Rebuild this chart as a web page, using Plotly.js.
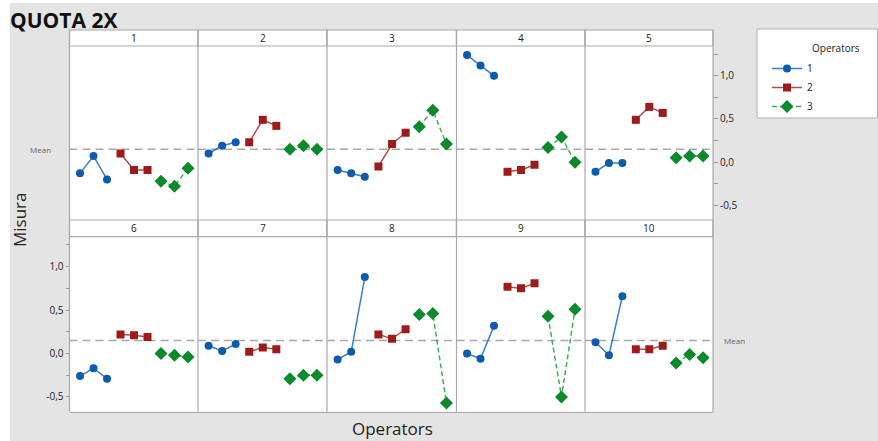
<!DOCTYPE html>
<html>
<head>
<meta charset="utf-8">
<script src="https://cdn.plot.ly/plotly-3.0.1.min.js"></script>
<style>html,body{margin:0;padding:0;background:#fff;}#chart{width:878px;height:441px;}</style>
</head>
<body>
<div id="chart"></div>
<script>
// ---- data ----
const parts = ['1','2','3','4','5','6','7','8','9','10'];
const operators = ['1','2','3'];
const trials = [1,2,3];
// three trials per part, parts 1..10 in order
const op1Values = [
  -0.13, 0.07, -0.20,
   0.10, 0.19, 0.23,
  -0.09, -0.13, -0.17,
   1.24, 1.12, 1.00,
  -0.11, -0.01, -0.01,
  -0.26, -0.17, -0.29,
   0.09, 0.03, 0.11,
  -0.07, 0.02, 0.88,
   0.00, -0.06, 0.32,
   0.13, -0.02, 0.66
];
const op2Values = [
   0.10, -0.09, -0.09,
   0.23, 0.49, 0.42,
  -0.05, 0.21, 0.34,
  -0.11, -0.09, -0.03,
   0.49, 0.64, 0.57,
   0.22, 0.21, 0.19,
   0.02, 0.07, 0.05,
   0.22, 0.17, 0.28,
   0.77, 0.75, 0.81,
   0.05, 0.05, 0.09
];
const op3Values = [
  -0.22, -0.28, -0.07,
   0.15, 0.19, 0.15,
   0.41, 0.60, 0.21,
   0.17, 0.29, 0.00,
   0.05, 0.07, 0.07,
   0.00, -0.02, -0.04,
  -0.29, -0.25, -0.25,
   0.45, 0.46, -0.57,
   0.43, -0.50, 0.51,
  -0.11, -0.01, -0.05
];
const meanValue = 0.15;
const tickVals = [-0.5, -0.25, 0, 0.25, 0.5, 0.75, 1.0, 1.25];
const tickText = ['-0,5', '', '0,0', '', '0,5', '', '1,0', ''];

// ---- layout helpers ----
const W = 878, H = 441;
const px = v => v / W;
const py = v => 1 - v / H;
const colEdges = [69.5, 198, 327, 456.5, 585, 713];
const rows = [
  {hTop: 30, pTop: 46, pBot: 220},
  {hTop: 220, pTop: 236.7, pBot: 411.7}
];
const yRange = [-0.67, 1.345];
const xRange = [0.22, 9.74];
const BORDER = '#a9a9a9';

const opData = [op1Values, op2Values, op3Values];
const styles = [
  {marker: {color: '#0d5bab', size: 8, symbol: 'circle'}, line: {color: '#3d7cc9', width: 1.5, dash: 'solid'}},
  {marker: {color: '#9c1c1c', size: 8, symbol: 'square'}, line: {color: '#bd4a4a', width: 1.5, dash: 'solid'}},
  {marker: {color: '#0b8a2c', size: 10, symbol: 'diamond'}, line: {color: '#3fae55', width: 1.5, dash: '5px,3px'}}
];

const traces = [];
const layout = {
  width: W, height: H,
  margin: {l: 0, r: 0, t: 0, b: 0},
  paper_bgcolor: '#e4e4e4',
  plot_bgcolor: '#ffffff',
  separators: ',.',
  font: {family: 'Open Sans, Noto Sans, sans-serif', color: '#222'},
  showlegend: true,
  legend: {
    x: px(767), y: py(54), xanchor: 'left', yanchor: 'top',
    bgcolor: 'rgba(0,0,0,0)', borderwidth: 0,
    font: {size: 10, color: '#222'}, traceorder: 'normal'
  },
  shapes: [],
  annotations: []
};

// thin white frame strips at left and top (outside the panels)
layout.shapes.push({type: 'rect', xref: 'paper', yref: 'paper', layer: 'below',
  x0: 0, x1: px(10), y0: 0, y1: 1, fillcolor: '#ffffff', line: {width: 0}});
layout.shapes.push({type: 'rect', xref: 'paper', yref: 'paper', layer: 'below',
  x0: 0, x1: 1, y0: py(3), y1: 1, fillcolor: '#ffffff', line: {width: 0}});

parts.forEach((part, p) => {
  const row = p < 5 ? 0 : 1;
  const col = p % 5;
  const xName = 'xaxis' + (p === 0 ? '' : p + 1);
  const xRef = 'x' + (p === 0 ? '' : p + 1);
  const yRef = row === 0 ? 'y' : 'y2';
  layout[xName] = {
    domain: [px(colEdges[col]), px(colEdges[col + 1])],
    range: xRange, anchor: yRef,
    showgrid: false, zeroline: false, showticklabels: false, ticks: '',
    showline: true, mirror: true, linecolor: BORDER, linewidth: 1.2
  };
  operators.forEach((op, o) => {
    const vals = opData[o].slice(p * 3, p * 3 + 3);
    traces.push({
      type: 'scatter', mode: 'lines+markers',
      x: trials.map(t => t + o * trials.length),
      y: vals,
      xaxis: xRef, yaxis: yRef,
      name: op, legendgroup: op, showlegend: p === 0,
      marker: Object.assign({line: {width: 0}}, styles[o].marker),
      line: styles[o].line,
      hoverinfo: 'y'
    });
  });
  // mean line (under the traces)
  layout.shapes.push({type: 'line', xref: xRef + ' domain', yref: yRef, layer: 'below',
    x0: 0, x1: 1, y0: meanValue, y1: meanValue,
    line: {color: '#a8a8a8', width: 1.5, dash: '8px,5px'}});
  const r = rows[row];
  // header strip
  layout.shapes.push({type: 'rect', xref: 'paper', yref: 'paper', layer: 'above',
    x0: px(colEdges[col]), x1: px(colEdges[col + 1]), y0: py(r.pTop), y1: py(r.hTop),
    fillcolor: '#ffffff', line: {color: BORDER, width: 1.2}});
  layout.annotations.push({xref: 'paper', yref: 'paper',
    x: px((colEdges[col] + colEdges[col + 1]) / 2), y: py((r.hTop + r.pTop) / 2),
    text: part, showarrow: false, font: {size: 10, color: '#222'}, xanchor: 'center', yanchor: 'middle'});
});

// vertical panel separators (lines only)
rows.forEach(r => {
  colEdges.forEach(cx => {
    layout.shapes.push({type: 'line', xref: 'paper', yref: 'paper', layer: 'above',
      x0: px(cx), x1: px(cx), y0: py(r.pBot), y1: py(r.hTop),
      line: {color: BORDER, width: 1.2}});
  });
});

const yCommon = {
  range: yRange, showgrid: false, zeroline: false, showline: false,
  tickvals: tickVals, ticktext: tickText, ticks: 'outside', ticklen: 4, tickcolor: '#999',
  tickfont: {size: 10, color: '#222'}, anchor: 'free'
};
layout.yaxis = Object.assign({}, yCommon, {domain: [py(rows[0].pBot), py(rows[0].pTop)], side: 'right', position: px(colEdges[5])});
layout.yaxis2 = Object.assign({}, yCommon, {domain: [py(rows[1].pBot), py(rows[1].pTop)], side: 'left', position: px(colEdges[0])});

// mean labels
layout.annotations.push({xref: 'paper', yref: 'y', x: px(28), y: meanValue, text: 'Mean', showarrow: false,
  xanchor: 'left', yanchor: 'middle', font: {size: 8, color: '#666'}});
layout.annotations.push({xref: 'paper', yref: 'y2', x: px(722), y: meanValue, text: 'Mean', showarrow: false,
  xanchor: 'left', yanchor: 'middle', font: {size: 8, color: '#666'}});

// titles
layout.annotations.push({xref: 'paper', yref: 'paper', x: px(8), y: py(20), text: '<b>QUOTA 2X</b>', showarrow: false,
  xanchor: 'left', yanchor: 'middle', font: {size: 21, color: '#111', family: 'Open Sans, sans-serif'}});
layout.annotations.push({xref: 'paper', yref: 'paper', x: px(392), y: py(428), text: 'Operators', showarrow: false,
  xanchor: 'center', yanchor: 'middle', font: {size: 17, color: '#222'}});
layout.annotations.push({xref: 'paper', yref: 'paper', x: px(19), y: py(220), text: 'Misura', showarrow: false,
  textangle: -90, xanchor: 'center', yanchor: 'middle', font: {size: 17, color: '#222'}});

// legend box and title
layout.shapes.push({type: 'rect', xref: 'paper', yref: 'paper', layer: 'below',
  x0: px(757), x1: px(877.5), y0: py(118), y1: py(29), fillcolor: '#ffffff', line: {color: '#b0b0b0', width: 1}});
layout.annotations.push({xref: 'paper', yref: 'paper', x: px(810), y: py(48), text: 'Operators', showarrow: false,
  xanchor: 'left', yanchor: 'middle', font: {size: 10, color: '#222'}});

Plotly.newPlot('chart', traces, layout, {displayModeBar: false, staticPlot: true});
</script>
</body>
</html>
